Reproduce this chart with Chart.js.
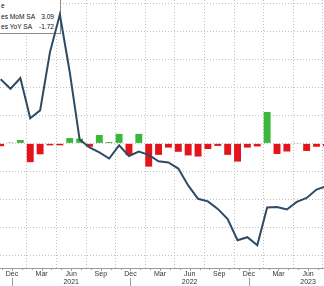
<!DOCTYPE html>
<html><head><meta charset="utf-8">
<script src="https://cdn.jsdelivr.net/npm/chart.js@4.4.0/dist/chart.umd.min.js"></script>
<style>
html,body{margin:0;padding:0;background:#fff;overflow:hidden;}
#wrap{position:relative;width:324px;height:286px;}
#c{position:absolute;left:0;top:0;z-index:2;}
#legend{position:absolute;left:-2px;top:-2px;width:63px;height:36px;border:1px solid #8c8c8c;background:#fff;box-sizing:border-box;font:6.6px "Liberation Sans",sans-serif;color:#111;z-index:1;}
#legend div{position:absolute;white-space:nowrap;line-height:8px;}
</style></head>
<body><div id="wrap">
<div id="legend">
<div style="left:2px;top:3px">e</div>
<div style="left:2px;top:14px">es MoM SA</div><div style="right:6px;top:14px">3.09</div>
<div style="left:2px;top:24px">es YoY SA</div><div style="right:6px;top:24px">-1.72</div>
</div>
<canvas id="c" width="324" height="286"></canvas>
</div>
<script>
// months, Nov 2020 .. Aug 2023 (index -1 .. 32)
const periods = ['2020-11','2020-12','2021-01','2021-02','2021-03','2021-04','2021-05','2021-06','2021-07','2021-08','2021-09','2021-10','2021-11','2021-12','2022-01','2022-02','2022-03','2022-04','2022-05','2022-06','2022-07','2022-08','2022-09','2022-10','2022-11','2022-12','2023-01','2023-02','2023-03','2023-04','2023-05','2023-06','2023-07','2023-08'];
const momValues = [-1.0,0.3,1.2,-6.7,-3.9,-0.7,-0.7,1.9,1.7,-1.2,3.0,0.5,3.4,-4.2,3.4,-8.3,-4.1,-1.5,-3.0,-4.3,-4.7,-2.0,-0.9,-4.1,-6.5,-1.5,-1.1,11.2,-3.8,-2.9,0.1,-2.7,-1.2,-1.0];
const yoyValues = [22.9,19.5,23.3,9.0,11.8,32.6,46.0,25.5,1.4,-1.4,-3.2,-5.4,-0.7,-4.5,-2.9,-4.1,-6.4,-6.8,-9.0,-15.0,-19.8,-20.7,-23.4,-27.0,-34.6,-33.5,-36.4,-22.9,-22.7,-23.6,-20.9,-19.5,-16.5,-15.3];
const tickPeriods = ['2020-12','2021-03','2021-06','2021-09','2021-12','2022-03','2022-06','2022-09','2022-12','2023-03','2023-06'];
const tickMonthNames = ['Dec','Mar','Jun','Sep','Dec','Mar','Jun','Sep','Dec','Mar','Jun'];
const tickYearNames = ['','','2021','','','','2022','','','','2023'];
const yGridValues = [-40,-30,-20,-10,0,10,20,30,40,50];

const idxOf = p => periods.indexOf(p) - 1;
const xs = periods.map((p,i)=>i-1);
const tickShift = 0.15;
const xMin = -1.064, xMax = 31.76;
const yMin = -44.5, yMax = 51.2;
const GREEN = '#3bb83a', RED = '#e3141c', LINE = '#2f4a63', GRID = '#c2c2c2';

// let the HTML legend box (under the canvas) show through, while series draw on top
const legendHole = {
  id:'legendHole',
  beforeDatasetsDraw(chart){
    const el = document.getElementById('legend');
    const r = el.getBoundingClientRect(), c = chart.canvas.getBoundingClientRect();
    chart.ctx.clearRect(r.left - c.left, r.top - c.top, r.width, r.height);
  }
};

const decor = {
  id:'decor',
  afterDraw(chart){
    const {ctx, chartArea:a, scales:{x}} = chart;
    ctx.save();
    ctx.strokeStyle = '#9c9c9c'; ctx.lineWidth = 1;
    ctx.beginPath(); ctx.moveTo(a.left, a.bottom+0.5); ctx.lineTo(a.right, a.bottom+0.5); ctx.stroke();
    for (let m = Math.floor(xMin); m <= Math.ceil(xMax); m++){
      const px = Math.round(x.getPixelForValue(m + tickShift)) + 0.5;
      const major = ((m % 3) + 3) % 3 === 0;
      ctx.beginPath(); ctx.moveTo(px, a.bottom); ctx.lineTo(px, a.bottom + (major?3:2)); ctx.stroke();
    }
    tickPeriods.forEach((p,i)=>{
      if (tickMonthNames[i] !== 'Dec') return;
      const px = Math.round(x.getPixelForValue(idxOf(p) + tickShift)) + 0.5;
      ctx.beginPath(); ctx.moveTo(px, a.bottom + 10); ctx.lineTo(px, chart.height); ctx.stroke();
    });
    ctx.restore();
  }
};

new Chart(document.getElementById('c'), {
  data:{
    datasets:[
      {type:'line', order:0, data: xs.map((x,i)=>({x, y:yoyValues[i]})), borderColor:LINE, borderWidth:2, pointRadius:0, tension:0},
      {type:'bar', order:1, data: xs.map((x,i)=>({x, y:momValues[i]})), backgroundColor: c => (c.raw && c.raw.y >= 0) ? GREEN : RED, barPercentage:0.7, categoryPercentage:1}
    ]
  },
  options:{
    responsive:false, animation:false, devicePixelRatio:1,
    layout:{padding:0},
    plugins:{legend:{display:false}, tooltip:{enabled:false}},
    scales:{
      x:{type:'linear', min:xMin, max:xMax, offset:false,
        afterBuildTicks: s => { s.ticks = tickPeriods.map(p => ({value: idxOf(p) + tickShift})); },
        afterFit: s => { s.height = 18; },
        grid:{color:GRID, drawTicks:false},
        border:{display:false, dash:[1,2]},
        ticks:{autoSkip:false, maxRotation:0, padding:2, color:'#333', font:{family:'"Liberation Sans",sans-serif', size:7, lineHeight:1.15},
          callback: v => { const i = tickPeriods.findIndex(p => Math.abs(idxOf(p)+tickShift - v) < 0.01); if (i<0) return ''; return tickYearNames[i] ? [tickMonthNames[i], tickYearNames[i]] : tickMonthNames[i]; }
        }
      },
      y:{min:yMin, max:yMax,
        afterBuildTicks: s => { s.ticks = yGridValues.map(v => ({value:v})); },
        afterFit: s => { s.width = 0; },
        ticks:{display:false},
        grid:{color:GRID, drawTicks:false},
        border:{display:false, dash:[1,2]}
      }
    }
  },
  plugins:[legendHole, decor]
});
</script></body></html>
